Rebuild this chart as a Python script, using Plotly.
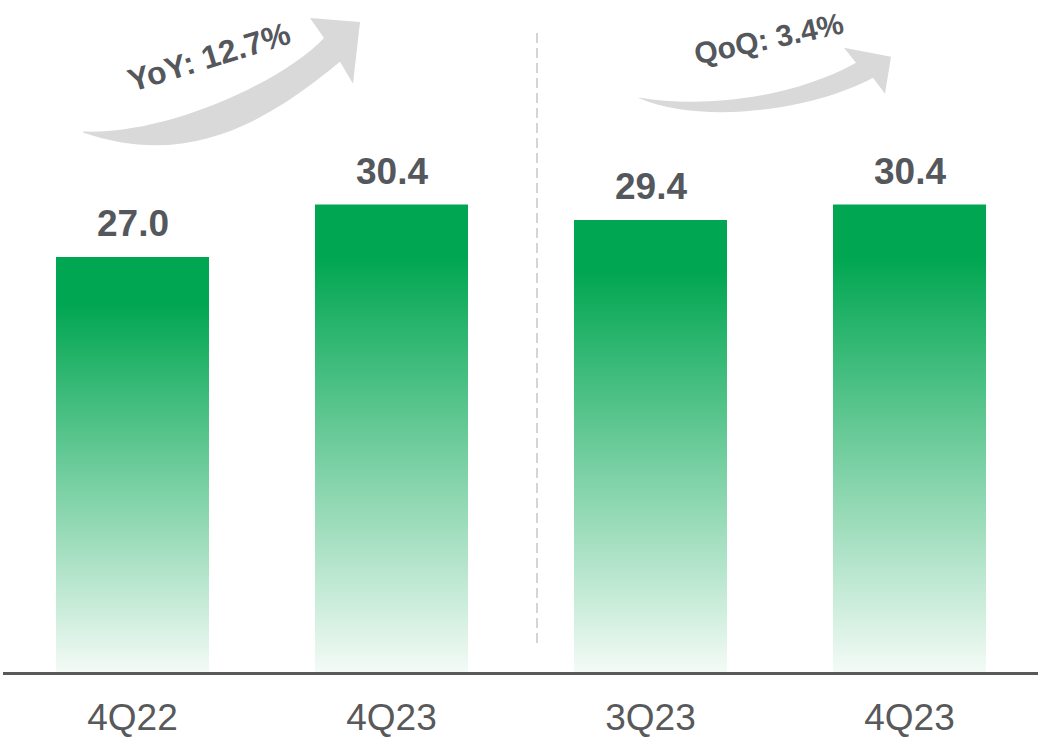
import plotly.graph_objects as go

# Revenue by quarter (bars) and the growth call-outs
categories = ["4Q22", "4Q23", "3Q23", "4Q23"]
values = [27.0, 30.4, 29.4, 30.4]
value_labels = ["27.0", "30.4", "29.4", "30.4"]
growth_labels = ["YoY: 12.7%", "QoQ: 3.4%"]

W, H = 1038, 738
M_L, M_R, M_T, M_B = 3, 0, 0, 64
PLOT_W = W - M_L - M_R
PLOT_H = H - M_T - M_B

BAR_W = 0.5907
GREEN = "#00a651"
TEXT_DARK = "#54575b"
TEXT_AXIS = "#58595b"
ARROW_GREY = "#d9d9d9"
FONT = "Liberation Sans, Arial, sans-serif"


def px(x, y):
    """Convert a pixel position on the canvas into paper coordinates."""
    return (x - M_L) / PLOT_W, (M_T + PLOT_H - y) / PLOT_H


def path(cmds):
    """Build an SVG path; every point gets its own command letter."""
    out = []
    for cmd in cmds:
        letter, pts = cmd[0], cmd[1:]
        if letter == "C":
            out.append("C " + " ".join("%.5f,%.5f" % px(*p) for p in pts))
        else:
            for p in pts:
                out.append("%s %.5f,%.5f" % ((letter,) + px(*p)))
    return " ".join(out) + " Z"


fig = go.Figure()

# Bars drawn as filled polygons so each one can carry its own vertical gradient
for i, v in enumerate(values):
    x0, x1 = i - BAR_W / 2, i + BAR_W / 2
    fig.add_trace(go.Scatter(
        x=[x0, x1, x1, x0, x0],
        y=[0, 0, v, v, 0],
        mode="lines",
        fill="toself",
        line=dict(width=0, color="rgba(0,0,0,0)"),
        fillgradient=dict(
            type="vertical",
            start=0,
            stop=v,
            colorscale=[[0, "#f5fbf7"], [0.89, GREEN], [1, GREEN]],
        ),
        hoverinfo="skip",
        showlegend=False,
    ))

# Value labels above each bar
for i, (v, lab) in enumerate(zip(values, value_labels)):
    fig.add_annotation(
        x=i, y=v, text="<b>%s</b>" % lab, showarrow=False,
        xanchor="center", yanchor="bottom", yshift=11,
        font=dict(family=FONT, size=37, color=TEXT_DARK),
    )

# Curved growth arrows
yoy_arrow = path([
    ("M", (83, 133)),
    ("C", (190, 170), (270, 120), (340, 62)),
    ("L", (353, 84), (360, 22), (310, 18), (324, 38)),
    ("C", (285, 80), (170, 135), (83, 132)),
])
qoq_arrow = path([
    ("M", (638, 98)),
    ("C", (700, 125), (810, 112), (873, 78)),
    ("L", (885, 94), (891, 57), (844, 48), (856, 63)),
    ("C", (790, 100), (700, 108), (640, 98)),
])
for p in (yoy_arrow, qoq_arrow):
    fig.add_shape(type="path", path=p, xref="paper", yref="paper",
                  fillcolor=ARROW_GREY, line=dict(width=0), layer="below")

# Growth call-out texts
for lab, (cx, cy), angle, size in [
    (growth_labels[0], (209, 57), -17, 32),
    (growth_labels[1], (769, 39), -12, 30),
]:
    xp, yp = px(cx, cy)
    fig.add_annotation(
        x=xp, y=yp, xref="paper", yref="paper", text="<b>%s</b>" % lab,
        showarrow=False, textangle=angle, xanchor="center", yanchor="middle",
        font=dict(family=FONT, size=size, color=TEXT_DARK),
    )

# Dashed divider between the YoY and QoQ groups
x_div, y_top = px(537, 33)
_, y_bot = px(537, 645)
fig.add_shape(type="line", xref="paper", yref="paper",
              x0=x_div, x1=x_div, y0=y_bot, y1=y_top,
              line=dict(color="#bfbfbf", width=1.3, dash="10px,5px"))

fig.update_layout(
    width=W, height=H,
    margin=dict(l=M_L, r=M_R, t=M_T, b=M_B, pad=0),
    paper_bgcolor="white", plot_bgcolor="white",
    showlegend=False,
    xaxis=dict(
        range=[-0.5, -0.5 + PLOT_W / 259.0],
        tickvals=list(range(len(categories))),
        ticktext=categories,
        tickfont=dict(family=FONT, size=37, color=TEXT_AXIS),
        ticklabelstandoff=11,
        showline=True, linecolor="#595959", linewidth=3,
        ticks="", showgrid=False, zeroline=False, fixedrange=True,
    ),
    yaxis=dict(
        range=[0, PLOT_H / 15.42],
        visible=False, showgrid=False, zeroline=False, fixedrange=True,
    ),
)

fig.write_html("out.html", config={"displayModeBar": False})
